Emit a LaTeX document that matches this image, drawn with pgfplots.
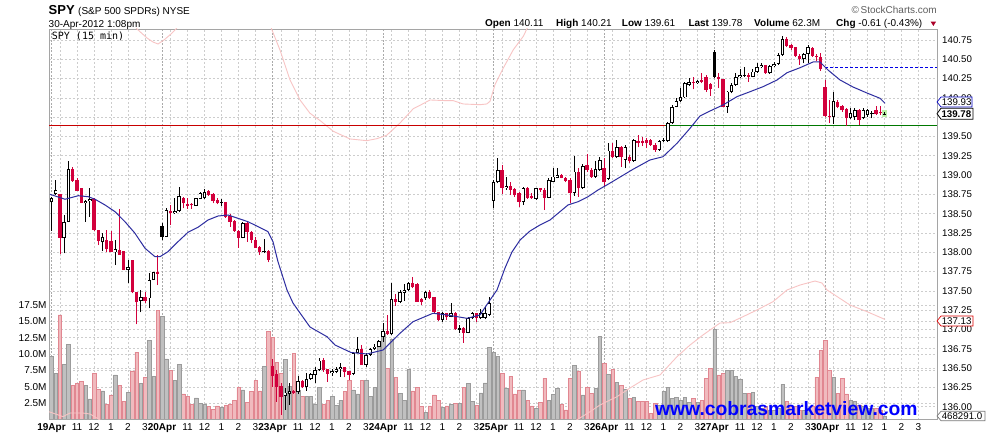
\documentclass[border=0pt]{standalone}
\usepackage{pgfplots}
\pgfplotsset{compat=1.18}
\usepackage{pgfplotstable}
\usepackage{fontspec}
\setmainfont{Liberation Sans}
\newfontfamily\monofont{DejaVu Sans Mono}

\definecolor{cred}{RGB}{210,0,60}
\definecolor{vpink}{RGB}{240,186,190}
\definecolor{vpinkd}{RGB}{225,135,145}
\definecolor{vgray}{RGB}{192,192,192}
\definecolor{vgrayd}{RGB}{155,155,155}
\definecolor{gridc}{RGB}{205,205,205}
\definecolor{gridd}{RGB}{170,170,170}
\definecolor{framec}{RGB}{165,165,165}
\definecolor{maline}{RGB}{45,45,160}
\definecolor{pinkline}{RGB}{248,196,196}
\definecolor{wmblue}{RGB}{0,0,255}
\definecolor{hlgreen}{RGB}{190,240,170}
\definecolor{lvred}{RGB}{200,0,0}
\definecolor{lvgreen}{RGB}{0,120,0}
\definecolor{pcblue}{RGB}{0,0,230}
\definecolor{tagblue}{RGB}{0,0,190}
\definecolor{tagred}{RGB}{220,0,0}
\definecolor{taggray}{RGB}{120,120,120}
\definecolor{copyc}{RGB}{95,95,95}
\definecolor{arrowc}{RGB}{170,0,40}

\pgfplotstableread{
i O H L C t v
0 138.647 138.720 138.276 138.699 0 9.71
1 138.751 138.936 138.742 138.807 0 7.07
2 138.751 138.760 137.973 138.189 1 15.97
3 138.181 138.483 137.986 138.396 0 8.49
4 138.396 139.182 138.396 139.079 0 11.54
5 139.079 139.109 138.915 138.923 1 5.29
6 138.936 138.958 138.794 138.794 1 5.54
7 138.828 138.837 138.634 138.634 1 5.90
8 138.634 138.677 138.396 138.664 0 5.29
9 138.664 138.837 138.461 138.690 0 3.16
10 138.686 138.707 138.276 138.289 1 7.07
11 138.289 138.289 138.094 138.146 1 4.68
12 138.129 138.245 138.016 138.194 0 4.38
13 138.159 138.289 138.008 138.042 1 2.39
14 138.146 138.276 137.999 137.999 1 3.77
15 137.999 138.159 137.835 138.038 0 6.82
16 138.029 138.560 137.965 137.965 1 5.29
17 138.016 138.016 137.770 137.770 1 2.85
18 137.770 137.900 137.598 137.809 0 4.22
19 137.900 137.900 137.468 137.481 1 7.43
20 137.490 137.490 137.067 137.352 1 10.32
21 137.369 137.511 137.222 137.425 0 5.54
22 137.425 137.490 137.339 137.369 1 6.46
23 137.403 137.727 137.274 137.641 0 12.15
24 137.641 137.749 137.641 137.740 0 6.66
25 137.740 137.965 137.576 137.723 1 16.73
26 138.340 138.375 138.159 138.202 2 15.81
27 138.202 138.569 138.202 138.548 0 9.26
28 138.535 138.612 138.353 138.505 1 7.58
29 138.505 138.699 138.500 138.535 0 6.05
30 138.535 138.850 138.526 138.733 0 8.49
31 138.707 138.720 138.569 138.634 1 3.92
32 138.630 138.699 138.561 138.604 1 3.61
33 138.621 138.634 138.561 138.608 1 2.39
34 138.604 138.707 138.604 138.699 0 3.31
35 138.690 138.785 138.690 138.764 0 2.50
36 138.699 138.820 138.690 138.785 0 2.34
37 138.794 138.807 138.733 138.742 1 1.99
38 138.751 138.764 138.634 138.664 1 1.63
39 138.673 138.699 138.621 138.634 1 2.09
40 138.638 138.690 138.604 138.647 0 1.88
41 138.656 138.656 138.448 138.461 1 2.24
42 138.474 138.491 138.332 138.396 1 2.34
43 138.405 138.418 138.267 138.276 1 3.00
44 138.276 138.289 138.060 138.189 1 4.93
45 138.189 138.396 138.180 138.375 0 4.53
46 138.375 138.396 138.137 138.267 1 2.60
47 138.267 138.276 138.116 138.159 1 4.27
48 138.159 138.202 138.060 138.060 1 5.95
49 138.073 138.086 137.965 138.008 1 4.38
50 138.008 138.172 137.986 138.021 0 8.19
51 138.017 138.030 137.870 137.900 1 13.42
52 136.528 136.614 136.260 136.398 1 12.51
53 136.424 136.476 136.065 136.260 1 8.70
54 136.268 136.303 135.893 136.130 1 7.07
55 136.139 136.238 135.958 136.182 0 9.21
56 136.160 136.303 136.022 136.204 0 5.04
57 136.199 136.217 136.165 136.182 1 10.12
58 136.186 136.398 136.165 136.333 0 4.53
59 136.333 136.346 136.238 136.260 1 3.61
60 136.251 136.432 136.208 136.355 0 3.61
61 136.355 136.432 136.346 136.424 0 3.61
62 136.407 136.519 136.303 136.476 0 2.39
63 136.476 136.627 136.467 136.597 0 4.88
64 136.605 136.627 136.454 136.476 1 2.39
65 136.493 136.493 136.325 136.424 1 3.00
66 136.433 136.484 136.398 136.463 0 3.51
67 136.454 136.519 136.433 136.489 0 2.24
68 136.484 136.571 136.389 136.510 0 3.00
69 136.510 136.519 136.381 136.454 1 4.27
70 136.463 136.463 136.346 136.411 1 5.95
71 136.424 136.700 136.407 136.692 0 4.53
72 136.700 136.907 136.692 136.743 0 3.92
73 136.743 136.800 136.540 136.540 1 5.95
74 136.540 136.692 136.519 136.670 0 5.95
75 136.670 136.756 136.657 136.743 0 3.51
76 136.743 136.812 136.735 136.778 0 4.93
77 136.778 136.864 136.769 136.851 0 11.65
78 136.907 137.080 136.843 136.981 0 13.17
79 136.981 137.188 136.929 136.938 1 7.83
80 136.938 137.598 136.929 137.391 0 12.26
81 137.391 137.460 137.305 137.361 1 6.46
82 137.361 137.512 137.339 137.490 0 4.02
83 137.477 137.590 137.374 137.512 0 3.00
84 137.512 137.620 137.503 137.598 0 7.68
85 137.598 137.676 137.533 137.546 1 4.38
86 137.590 137.598 137.361 137.361 1 4.93
87 137.391 137.404 137.318 137.361 1 1.99
88 137.404 137.503 137.382 137.490 0 1.12
89 137.490 137.512 137.391 137.404 1 2.09
90 137.417 137.426 137.210 137.231 1 3.77
91 137.231 137.231 137.115 137.123 1 3.00
92 137.123 137.231 137.102 137.210 0 1.83
93 137.210 137.218 137.123 137.158 1 2.09
94 137.167 137.339 137.158 137.218 0 2.39
95 137.218 137.231 136.994 137.002 1 2.50
96 136.994 137.058 136.951 137.015 0 2.50
97 137.015 137.037 136.830 136.959 1 4.93
98 136.959 137.167 136.951 137.145 0 5.54
99 137.145 137.231 137.132 137.210 0 2.75
100 137.210 137.218 137.102 137.145 1 2.24
101 137.145 137.261 137.132 137.210 0 4.10
102 137.150 137.300 137.130 137.210 0 5.60
103 137.190 137.420 137.170 137.340 0 11.04
104 138.665 138.937 138.578 138.906 0 10.22
105 138.906 139.217 138.893 139.066 0 9.61
106 139.066 139.131 138.751 138.837 1 7.07
107 138.829 138.980 138.807 138.855 0 4.78
108 138.859 138.906 138.742 138.807 1 6.66
109 138.816 138.837 138.721 138.742 1 3.92
110 138.764 138.786 138.591 138.656 1 4.53
111 138.647 138.850 138.613 138.829 0 4.53
112 138.829 138.850 138.691 138.708 1 3.00
113 138.734 138.764 138.691 138.699 1 2.09
114 138.691 138.837 138.678 138.829 0 1.73
115 138.829 138.837 138.786 138.803 1 2.65
116 138.807 138.829 138.548 138.708 1 6.31
117 138.708 138.958 138.699 138.937 0 3.00
118 138.915 139.088 138.906 138.980 0 3.87
119 138.967 139.088 138.958 139.001 0 4.78
120 139.001 139.010 138.958 138.967 1 2.39
121 138.967 138.980 138.906 138.924 1 1.48
122 138.937 138.958 138.634 138.764 1 6.31
123 138.764 139.252 138.734 139.045 0 8.29
124 139.045 139.088 138.721 138.829 1 7.43
125 138.829 139.139 138.820 139.122 0 3.77
126 139.131 139.269 139.045 139.066 1 4.93
127 139.066 139.088 138.967 138.980 1 4.02
128 138.980 139.183 138.967 139.079 0 4.78
129 139.066 139.239 139.053 139.196 0 12.76
130 139.088 139.217 138.850 138.906 1 8.60
131 138.950 139.412 138.930 139.317 0 6.97
132 139.317 139.412 139.220 139.230 1 7.68
133 139.230 139.455 139.220 139.360 0 5.70
134 139.360 139.377 139.109 139.230 1 5.29
135 139.196 139.390 139.088 139.360 0 4.63
136 139.239 139.261 139.153 139.187 1 3.26
137 139.187 139.464 139.174 139.455 0 3.36
138 139.446 139.520 139.360 139.420 1 2.75
139 139.446 139.498 139.377 139.420 1 2.85
140 139.455 139.477 139.347 139.412 1 2.85
141 139.455 139.464 139.377 139.390 1 0.97
142 139.390 139.412 139.304 139.325 1 2.50
143 139.325 139.455 139.317 139.446 0 2.24
144 139.446 139.477 139.433 139.455 0 4.27
145 139.446 139.692 139.433 139.671 0 4.93
146 139.671 139.908 139.662 139.886 0 3.26
147 139.886 139.994 139.878 139.964 0 3.41
148 139.964 140.124 139.951 140.007 0 3.00
149 140.007 140.210 139.994 140.189 0 3.41
150 140.167 140.254 140.154 140.210 0 2.60
151 140.210 140.275 140.111 140.197 1 3.26
152 140.197 140.232 140.180 140.223 0 2.60
153 140.232 140.327 140.189 140.206 1 3.00
154 140.275 140.297 140.081 140.102 1 6.31
155 140.180 140.189 140.025 140.111 1 7.83
156 140.599 140.621 140.254 140.275 2 13.78
157 140.275 140.327 140.124 140.241 1 6.82
158 140.241 140.241 139.878 139.887 1 7.07
159 139.887 140.094 139.809 140.081 0 7.58
160 140.081 140.189 140.060 140.168 0 7.58
161 140.168 140.327 140.155 140.267 0 6.56
162 140.267 140.370 140.254 140.297 0 6.16
163 140.284 140.405 140.267 140.301 0 4.02
164 140.297 140.327 140.211 140.275 1 4.02
165 140.275 140.370 140.267 140.340 0 4.22
166 140.340 140.448 140.327 140.396 0 1.99
167 140.396 140.448 140.383 140.422 0 1.73
168 140.422 140.431 140.310 140.319 1 1.99
169 140.319 140.427 140.310 140.414 0 1.48
170 140.414 140.470 140.396 140.440 0 1.38
171 140.440 140.578 140.427 140.556 0 1.73
172 140.556 140.802 140.543 140.759 0 5.39
173 140.759 140.785 140.656 140.673 1 2.75
174 140.686 140.699 140.621 140.643 1 2.09
175 140.655 140.664 140.526 140.543 1 1.99
176 140.543 140.569 140.427 140.500 1 1.48
177 140.500 140.578 140.448 140.569 0 1.38
178 140.569 140.686 140.448 140.655 0 1.73
179 140.643 140.664 140.535 140.543 1 1.99
180 140.543 140.569 140.483 140.526 1 6.46
181 140.526 140.586 140.353 140.370 1 10.63
182 140.137 140.232 139.757 139.765 1 12.05
183 139.765 139.973 139.670 139.748 1 7.58
184 139.748 140.081 139.662 139.964 0 6.46
185 139.951 139.973 139.865 139.886 1 4.02
186 139.895 139.908 139.822 139.843 1 6.31
187 139.852 139.865 139.636 139.735 1 3.92
188 139.735 139.865 139.722 139.800 0 3.00
189 139.757 139.865 139.714 139.843 0 2.85
190 139.843 139.852 139.649 139.714 1 2.24
191 139.735 139.865 139.722 139.843 0 2.09
192 139.778 139.852 139.757 139.843 0 1.73
193 139.791 139.835 139.735 139.809 0 1.73
194 139.843 139.895 139.778 139.791 1 1.73
195 139.822 139.895 139.778 139.800 1 1.48
196 139.791 139.822 139.775 139.780 2 0.47
}\candles

\pgfplotsset{
  chartbase/.style={
    scale only axis, width=888pt, height=390.7pt,
    at={(49pt,18.3pt)}, anchor=south west,
    xmin=-0.588, xmax=208.35,
    tick label style={font=\fontsize{10}{12}\selectfont},
  },
  candlebar/.style n args={3}{draw=none, mark=none, forget plot,
    restrict expr to domain={\thisrow{t}}{#1:#1},
    error bars/.cd, y dir=plus, y explicit, error mark=none,
    error bar style={draw=#2, line width=#3, solid}},
  gstyle/.style={draw=gridc, line width=0.6pt, dash pattern=on 2pt off 2pt},
}

\begin{document}
\begin{tikzpicture}
\path[use as bounding box, fill=white] (0,0) rectangle (990pt,438pt);

% ---------- grid axis ----------
\begin{axis}[chartbase,
  ymin=135.8316, ymax=140.8925,
  axis line style={draw=none}, major tick length=0pt,
  xtick={2,6,10,14,18,22,28,32,36,40,44,48,54,58,62,66,70,74,80,84,88,92,96,100,106,110,114,118,122,126,132,136,140,144,148,152,158,162,166,170,174,178,184,188,192,196,200,204},
  extra x ticks={0,26,52,78,104,130,156,182},
  extra x tick labels={},
  extra x tick style={grid=major, major grid style={draw=gridd, line width=0.6pt, dash pattern=on 2pt off 1.5pt}},
  ytick={136,136.25,136.5,136.75,137,137.25,137.5,137.75,138,138.25,138.5,138.75,139,139.25,139.5,139.75,140,140.25,140.5,140.75},
  xticklabels={}, yticklabels={},
  xmajorgrids, ymajorgrids, major grid style={gstyle},
]
\end{axis}

% ---------- volume axis ----------
\begin{axis}[chartbase,
  ymin=0, ymax=59.594,
  axis line style={draw=none}, major tick length=0pt,
  xtick=\empty,
  ytick={2.5,5,7.5,10,12.5,15,17.5},
  yticklabels={2.5M,5.0M,7.5M,10.0M,12.5M,15.0M,17.5M},
  ytick pos=left,
  yticklabel style={inner sep=2.3pt},
  ymajorgrids, major grid style={gstyle},
]
\addplot[ybar, bar width=3.5pt, bar shift=0pt, fill=vpink, draw=vpinkd, line width=0.5pt,
  restrict expr to domain={\thisrow{t}}{1:1}] table[x=i, y=v] {\candles};
\addplot[ybar, bar width=3.5pt, bar shift=0pt, fill=vgray, draw=vgrayd, line width=0.5pt,
  restrict expr to domain={abs(\thisrow{t}-1)}{0.5:5}] table[x=i, y=v] {\candles};
\end{axis}

% ---------- price axis ----------
\begin{axis}[chartbase,
  ymin=135.8316, ymax=140.8925,
  axis line style={draw=framec, line width=0.8pt},
  major tick length=0pt,
  xtick={0,2,6,10,14,18,22,26,28,32,36,40,44,48,52,54,58,62,66,70,74,78,80,84,88,92,96,100,104,106,110,114,118,122,126,130,132,136,140,144,148,152,156,158,162,166,170,174,178,182,184,188,192,196,200,204},
  xticklabels={\textbf{19Apr},{},11,12,1,2,3,\textbf{20Apr},{},11,12,1,2,3,\textbf{23Apr},{},11,12,1,2,3,\textbf{24Apr},{},11,12,1,2,3,\textbf{25Apr},{},11,12,1,2,3,\textbf{26Apr},{},11,12,1,2,3,\textbf{27Apr},{},11,12,1,2,3,\textbf{30Apr},{},11,12,1,2,3},
  ytick={136,136.25,136.5,136.75,137,137.25,137.5,137.75,138,138.25,138.5,138.75,139,139.25,139.5,140,140.25,140.5,140.75},
  yticklabels={136.00,136.25,136.50,136.75,137.00,137.25,137.50,137.75,138.00,138.25,138.50,138.75,139.00,139.25,139.50,140.00,140.25,140.50,140.75},
  yticklabel pos=right, ytick pos=right,
  yticklabel style={xshift=1.7pt, font=\fontsize{9.7}{12}\selectfont},
]
% pink overlay line segments
\addplot[draw=pinkline, line width=0.9pt] coordinates {
(-0.59,135.935) (2.71,135.871) (4.35,135.918) (7.41,135.918) (9.06,135.905) (11.41,135.828) (12.82,135.724)};
\addplot[draw=pinkline, line width=0.9pt] coordinates {
(18.47,141.035) (20.12,140.892) (22.47,140.776) (23.88,140.724) (25.06,140.698) (26.47,140.750) (28.12,140.828) (29.29,140.892) (30.94,141.035)};
\addplot[draw=pinkline, line width=0.9pt] coordinates {
(50.94,141.035) (51.81,140.889) (53.76,140.620) (56.12,140.232) (58.47,139.973) (60.82,139.801) (63.18,139.707) (66.31,139.567) (70.24,139.468) (74.16,139.446) (76.52,139.471) (78.87,139.516) (82.0,139.675) (85.13,139.860) (86.71,139.904) (89.06,139.973) (92.99,139.964) (94.54,139.964) (96.89,139.921) (100.82,139.912) (102.4,139.921) (103.18,139.956) (104.35,140.171) (106.31,140.387) (108.66,140.624) (111.01,140.798) (111.95,140.905) (113.06,141.009)};
\addplot[draw=pinkline, line width=0.9pt] coordinates {
(123.18,135.815) (126.71,135.935) (129.06,136.022) (133.06,136.130) (136.12,136.242) (139.18,136.346) (143.18,136.411) (147.18,136.648) (150.24,136.799) (153.29,136.929) (157.29,137.084) (159.65,137.088) (162.71,137.166) (166.0,137.253) (169.76,137.360) (173.06,137.512) (176.12,137.576) (179.65,137.628) (181.29,137.602) (182.47,137.512) (187.88,137.317) (191.88,137.231) (196.12,137.13)};
% horizontal reference lines
\addplot[draw=lvred, line width=0.9pt] coordinates {(-0.588,139.645) (144.35,139.645)};
\addplot[draw=lvgreen, line width=0.9pt] coordinates {(144.35,139.645) (208.35,139.645)};
\addplot[draw=pcblue, line width=0.8pt, dash pattern=on 3pt off 2pt] coordinates {(182,140.40) (208.35,140.40)};
% highlight of last bar
\addplot[fill=hlgreen, draw=none] coordinates {(195.3,139.757) (196.5,139.757) (196.5,139.843) (195.3,139.843)} -- cycle;
% wicks
\addplot[candlebar={1}{cred}{0.9pt}] table[x=i, y=L, y error plus expr={\thisrow{H}-\thisrow{L}}] {\candles};
\addplot[candlebar={0}{black}{0.9pt}] table[x=i, y=L, y error plus expr={\thisrow{H}-\thisrow{L}}] {\candles};
\addplot[candlebar={2}{black}{0.9pt}] table[x=i, y=L, y error plus expr={\thisrow{H}-\thisrow{L}}] {\candles};
% bodies
\addplot[candlebar={1}{cred}{3.3pt}] table[x=i, y expr={min(\thisrow{O},\thisrow{C})}, y error plus expr={max(abs(\thisrow{C}-\thisrow{O}),0.01)}] {\candles};
\addplot[candlebar={2}{black}{3.3pt}] table[x=i, y expr={min(\thisrow{O},\thisrow{C})}, y error plus expr={max(abs(\thisrow{C}-\thisrow{O}),0.01)}] {\candles};
\addplot[candlebar={0}{black}{3.5pt}] table[x=i, y expr={min(\thisrow{O},\thisrow{C})}, y error plus expr={max(abs(\thisrow{C}-\thisrow{O}),0.01)}] {\candles};
\addplot[candlebar={0}{white}{1.9pt}] table[x=i, y expr={min(\thisrow{O},\thisrow{C})+0.011}, y error plus expr={max(abs(\thisrow{C}-\thisrow{O})-0.022,0)}] {\candles};
% moving average
\addplot[draw=maline, line width=1pt] coordinates {
(-0.35,138.751) (3.18,138.687) (6.31,138.733) (8.66,138.720) (10.24,138.687) (12.59,138.613) (14.94,138.526) (17.29,138.396) (19.65,138.246) (22.0,138.052) (24.35,137.943) (25.53,137.943) (27.41,138.008) (29.76,138.137) (32.12,138.259) (34.47,138.324) (36.82,138.418) (39.18,138.470) (41.53,138.483) (43.88,138.440) (46.24,138.396) (48.59,138.332) (50.94,138.267) (52.12,138.137) (53.29,137.878) (55.41,137.512) (56.82,137.343) (58.47,137.214) (60.82,137.032) (64.82,136.907) (66.71,136.799) (70.47,136.702) (74.24,136.683) (78.0,136.734) (82.0,136.951) (85.06,137.101) (89.76,137.210) (93.06,137.188) (97.76,137.145) (100.82,137.188) (103.18,137.382) (104.82,137.512) (106.71,137.797) (108.35,138.004) (110.24,138.159) (112.59,138.276) (114.94,138.354) (117.29,138.418) (121.53,138.613) (123.88,138.655) (126.24,138.720) (128.59,138.807) (130.94,138.881) (136.82,139.075) (140.82,139.196) (143.88,139.238) (147.18,139.412) (150.24,139.606) (152.59,139.766) (154.94,139.830) (157.99,139.908) (161.29,140.016) (164.35,140.080) (167.41,140.145) (170.71,140.232) (173.06,140.326) (176.12,140.391) (179.18,140.465) (180.82,140.465) (182.71,140.361) (185.53,140.232) (188.59,140.141) (191.88,140.063) (194.94,139.995) (196.12,139.93)};
\end{axis}

% ---------- header texts ----------
\node[anchor=base west, inner sep=0] at (48.5pt,423pt) {{\fontsize{13}{13}\selectfont\bfseries SPY}\hspace{3.5pt}{\fontsize{10}{12}\selectfont (S\&P 500 SPDRs) NYSE}};
\node[anchor=base west, inner sep=0] at (48.5pt,410.7pt) {\fontsize{10}{12}\selectfont 30-Apr-2012 1:08pm};
\node[anchor=base west, inner sep=0] at (51.7pt,398pt) {\monofont\fontsize{10}{12}\selectfont SPY (15 min)};
\node[anchor=base east, inner sep=0, text=copyc] at (937pt,424pt) {\fontsize{10}{12}\selectfont \textcopyright\,StockCharts.com};
\begin{scope}[every node/.style={anchor=base west, inner sep=0, font=\fontsize{10}{12}\selectfont}]
\node at (485pt,411.3pt) {\textbf{Open} 140.11};
\node at (556pt,411.3pt) {\textbf{High} 140.21};
\node at (621.7pt,411.3pt) {\textbf{Low} 139.61};
\node at (688.3pt,411.3pt) {\textbf{Last} 139.78};
\node at (754pt,411.3pt) {\textbf{Volume} 62.3M};
\node at (836pt,411.3pt) {\textbf{Chg} -0.61 (-0.43\%)};
\end{scope}
\fill[arrowc] (930.7pt,416.3pt) -- (936pt,416.3pt) -- (933.35pt,412pt) -- cycle;

% ---------- right-side value tags ----------
\draw[tagblue, line width=0.7pt, fill=white] (937pt,336pt) -- (941pt,341pt) -- (972pt,341pt) -- (972pt,331pt) -- (941pt,331pt) -- cycle;
\node[anchor=west, inner sep=0] at (941.6pt,336pt) {\fontsize{9.7}{12}\selectfont 139.93};
\draw[black, line width=0.8pt, fill=white] (937pt,324.3pt) -- (941pt,329.8pt) -- (973pt,329.8pt) -- (973pt,318.8pt) -- (941pt,318.8pt) -- cycle;
\node[anchor=west, inner sep=0] at (941.3pt,324.3pt) {\fontsize{9.7}{12}\selectfont\bfseries 139.78};
\draw[tagred, line width=0.7pt, fill=white] (937pt,117pt) -- (941pt,122pt) -- (973pt,122pt) -- (973pt,112pt) -- (941pt,112pt) -- cycle;
\node[anchor=west, inner sep=0] at (941.6pt,117pt) {\fontsize{9.7}{12}\selectfont 137.13};
\draw[taggray, line width=0.7pt, fill=white] (937pt,22pt) -- (941pt,26.7pt) -- (985pt,26.7pt) -- (985pt,17.3pt) -- (941pt,17.3pt) -- cycle;
\node[anchor=west, inner sep=0] at (941.6pt,22pt) {\fontsize{9.7}{12}\selectfont 468291.0};

% ---------- watermark ----------
\node[anchor=base west, inner sep=0, text=wmblue] at (655pt,22.5pt) {\fontsize{19.3}{20}\selectfont\bfseries www.cobrasmarketview.com};
\end{tikzpicture}
\end{document}
